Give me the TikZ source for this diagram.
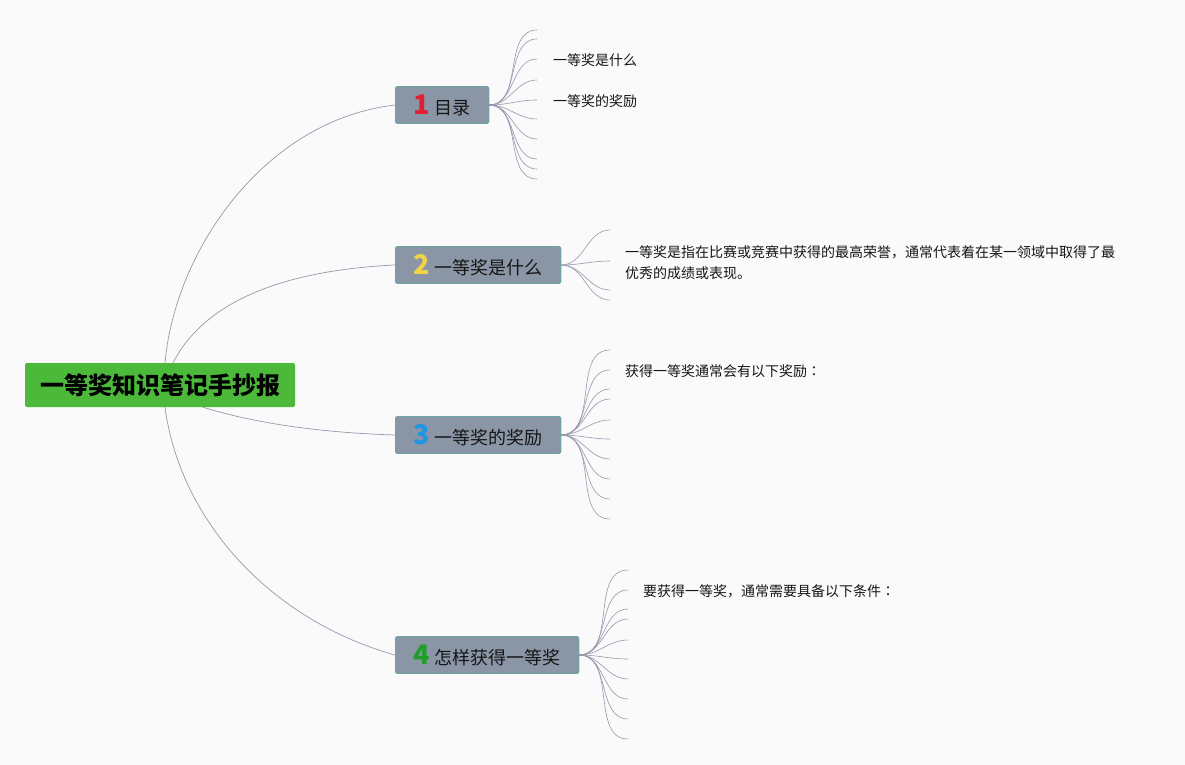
\documentclass[tikz,border=0pt]{standalone}
\usepackage{fontspec}
\setmainfont{Noto Sans CJK SC}
\newfontfamily\punctfont{Noto Sans CJK TC}
\usetikzlibrary{positioning}
\definecolor{colorbg}    {RGB}{250,250,251}
\definecolor{colorroot}  {RGB}{76,185,58}
\definecolor{colortopic} {RGB}{138,149,166}
\definecolor{colorborder}{RGB}{108,166,164}
\definecolor{colorline}  {RGB}{150,152,172}
\definecolor{colortext}  {RGB}{22,22,22}
\definecolor{colorone}   {RGB}{226,30,52}
\definecolor{colortwo}   {RGB}{240,212,70}
\definecolor{colorthree} {RGB}{30,150,225}
\definecolor{colorfour}  {RGB}{30,160,40}
\newcommand\topicnum[2]{\textcolor{#1}{\fontsize{27}{27}\selectfont\bfseries #2}\hspace{5pt}}
\newcommand\wcolon{{\punctfont ：}}

\begin{document}
\begin{tikzpicture}[
    x=1pt, y=-1pt,
    root/.style={fill=colorroot,rounded corners=2pt,inner xsep=15pt,minimum height=44pt,text=black,font={\fontsize{24}{24}\selectfont\bfseries}},
    topic/.style={anchor=west,fill=colortopic,draw=colorborder,line width=0.8pt,rounded corners=2pt,inner xsep=18pt,minimum height=37pt,text=colortext,font={\fontsize{18}{18}\selectfont}},
    branch/.style={draw=colorline,line width=0.7pt},
    leaf/.style={draw=colorline,line width=0.6pt},
    leaftext/.style={anchor=west,inner sep=0pt,align=left,text=colortext,yshift=-1.5pt,font={\fontsize{14}{21}\selectfont}},
]
    \fill[colorbg] (0,0) rectangle (1185,765);
    \useasboundingbox (0,0) rectangle (1185,765);

    % Topics
    \node[root] (root) at (160,385) {一等奖知识笔记手抄报};

    \node[topic] (b1) at (395,105) {\topicnum{colorone}{1}目录};
    \node[topic] (b2) at (395,265) {\topicnum{colortwo}{2}一等奖是什么};
    \node[topic] (b3) at (395,435) {\topicnum{colorthree}{3}一等奖的奖励};
    \node[topic] (b4) at (395,655) {\topicnum{colorfour}{4}怎样获得一等奖};

    % Branches
    \draw[branch] ([xshift=5pt]root.north) .. controls (175,250) and (265,120) .. (b1.west);
    \draw[branch] ([xshift=13pt]root.north) .. controls (195,320) and (250,272) .. (b2.west);
    \draw[branch] ([xshift=43pt]root.south) .. controls (260,425) and (330,433) .. (b3.west);
    \draw[branch] ([xshift=5pt]root.south) .. controls (180,520) and (270,620) .. (b4.west);

    % Leaves
    \foreach \y [count=\i] in {30,39,59,80,100,119,139,159,169,179} {
        \coordinate (l1-\i) at (537,\y);
        \draw[leaf] (b1.east) to[out=0,in=180] (l1-\i);
    }
    \foreach \y [count=\i] in {230,261,290,300} {
        \coordinate (l2-\i) at (610,\y);
        \draw[leaf] (b2.east) to[out=0,in=180] (l2-\i);
    }
    \foreach \y [count=\i] in {350,370,389,399,420,439,459,479,499,519} {
        \coordinate (l3-\i) at (610,\y);
        \draw[leaf] (b3.east) to[out=0,in=180] (l3-\i);
    }
    \foreach \y [count=\i] in {570,590,609,619,640,659,679,699,719,739} {
        \coordinate (l4-\i) at (628,\y);
        \draw[leaf] (b4.east) to[out=0,in=180] (l4-\i);
    }

    % Leaf texts
    \node[leaftext, right=16pt of l1-3] (t1) {一等奖是什么};
    \node[leaftext, right=16pt of l1-5] (t2) {一等奖的奖励};
    \node[leaftext, right=15pt of l2-2] (t3) {一等奖是指在比赛或竞赛中获得的最高荣誉，通常代表着在某一领域中取得了最\\优秀的成绩或表现。};
    \node[leaftext, right=15pt of l3-2] (t4) {获得一等奖通常会有以下奖励\wcolon};
    \node[leaftext, right=15pt of l4-2] (t5) {要获得一等奖，通常需要具备以下条件\wcolon};

\end{tikzpicture}
\end{document}
